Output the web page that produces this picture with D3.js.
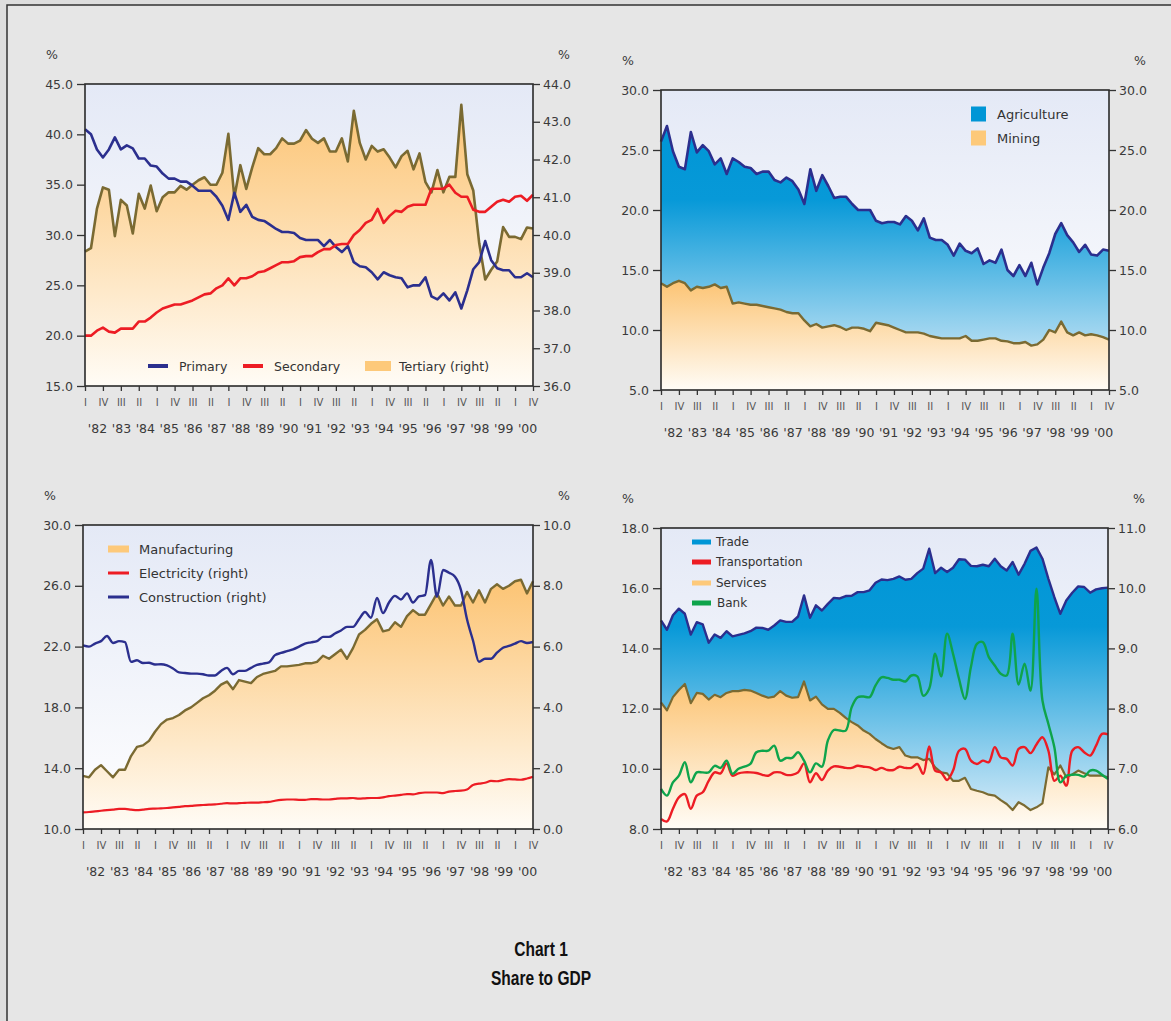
<!DOCTYPE html>
<html>
<head>
<meta charset="utf-8">
<script src="https://cdn.jsdelivr.net/npm/d3@7"></script>
<style>
  html, body { margin: 0; padding: 0; background: #e0e0e0; }
  svg { display: block; font-family: "DejaVu Sans", sans-serif; }
</style>
</head>
<body>
<svg id="chart" width="1171" height="1021"></svg>
<script>
// quarterly data, 1982 Q1 .. 2000 Q4 (76 points)
const quarterNames = ["I", "II", "III", "IV"];
const yearLabels = ["'82","'83","'84","'85","'86","'87","'88","'89","'90","'91",
  "'92","'93","'94","'95","'96","'97","'98","'99","'00"];

// panel 1
const primary = [40.5,40.0,38.5,37.7,38.5,39.7,38.5,38.9,38.6,37.6,37.6,36.9,36.8,36.1,35.6,35.6,
  35.3,35.3,34.9,34.4,34.4,34.4,33.8,32.9,31.5,34.2,32.3,33.0,31.8,31.5,31.4,31.0,30.6,30.3,30.3,30.2,
  29.7,29.5,29.5,29.5,28.9,29.5,28.8,28.3,28.9,27.3,26.9,26.8,26.3,25.6,26.3,26.0,25.8,25.7,24.8,25.0,
  25.0,25.8,23.9,23.6,24.2,23.5,24.3,22.7,24.5,26.6,27.3,29.4,27.5,26.7,26.5,26.5,25.8,25.8,26.2,25.8];
const secondary = [20.0,20.0,20.5,20.8,20.4,20.3,20.7,20.7,20.7,21.4,21.4,21.8,22.3,22.7,22.9,23.1,
  23.1,23.3,23.5,23.8,24.1,24.2,24.7,25.0,25.7,25.0,25.7,25.7,25.9,26.3,26.4,26.7,27.0,27.3,27.3,27.4,
  27.8,27.9,27.9,28.3,28.6,28.6,29.0,29.1,29.1,30.0,30.5,31.2,31.5,32.6,31.2,31.9,32.4,32.3,32.8,33.0,
  33.0,33.0,34.6,34.6,34.6,35.0,34.2,33.8,33.8,32.5,32.3,32.3,32.8,33.3,33.5,33.3,33.8,33.9,33.4,34.0];
const tertiary = [39.56,39.65,40.7,41.26,41.2,39.97,40.93,40.78,40.04,41.09,40.7,41.31,40.63,41.0,41.13,41.13,
  41.3,41.2,41.33,41.45,41.53,41.33,41.33,41.65,42.68,41.0,41.85,41.22,41.79,42.3,42.14,42.14,42.3,42.56,42.42,42.42,
  42.5,42.78,42.55,42.44,42.56,42.21,42.21,42.56,41.95,43.29,42.44,42.0,42.36,42.21,42.27,42.05,41.79,42.09,42.23,41.74,
  42.16,41.4,41.13,41.72,41.13,41.54,41.54,43.45,41.61,41.18,39.78,38.82,39.08,39.3,40.21,39.95,39.95,39.89,40.2,40.17];

// panel 2
const agriculture = [25.7,27.0,24.9,23.6,23.4,26.5,24.8,25.4,24.9,23.8,24.3,23.0,24.3,24.0,23.6,23.5,
  23.0,23.2,23.2,22.5,22.3,22.7,22.4,21.7,20.5,23.4,21.6,22.9,22.0,21.0,21.1,21.1,20.5,20.0,20.0,20.0,
  19.1,18.9,19.0,19.0,18.8,19.5,19.1,18.3,19.3,17.7,17.5,17.5,17.1,16.2,17.2,16.6,16.4,16.8,15.5,15.8,
  15.6,16.7,15.0,14.5,15.4,14.5,15.6,13.8,15.2,16.4,18.0,18.9,17.9,17.3,16.5,17.1,16.3,16.2,16.7,16.6];
const mining = [13.9,13.6,13.9,14.1,13.9,13.3,13.6,13.5,13.6,13.8,13.5,13.6,12.2,12.3,12.2,12.1,
  12.1,12.0,11.9,11.8,11.7,11.5,11.4,11.4,10.8,10.3,10.5,10.2,10.3,10.4,10.25,10.0,10.2,10.2,10.1,9.9,
  10.6,10.5,10.4,10.2,10.0,9.8,9.8,9.8,9.7,9.5,9.4,9.3,9.3,9.3,9.3,9.5,9.1,9.1,9.2,9.3,
  9.3,9.1,9.05,8.9,8.9,9.0,8.7,8.8,9.2,10.0,9.8,10.7,9.8,9.55,9.8,9.55,9.65,9.55,9.4,9.2];

// panel 3
const manufacturing = [13.5,13.4,13.9,14.2,13.8,13.4,13.9,13.9,14.8,15.4,15.5,15.8,16.4,16.9,17.2,17.3,
  17.5,17.8,18.0,18.3,18.6,18.8,19.1,19.5,19.7,19.2,19.8,19.7,19.6,20.0,20.2,20.3,20.4,20.7,20.7,20.75,
  20.8,20.9,20.9,21.0,21.4,21.2,21.5,21.8,21.2,21.9,22.8,23.1,23.5,23.8,23.0,23.1,23.6,23.3,24.0,24.4,
  24.1,24.1,24.8,25.5,24.7,25.3,24.7,24.7,25.6,24.9,25.7,24.9,25.8,26.1,25.8,26.0,26.3,26.4,25.5,26.3];
const electricity = [0.55,0.56,0.58,0.6,0.62,0.64,0.66,0.66,0.64,0.62,0.64,0.66,0.67,0.68,0.69,0.71,
  0.73,0.75,0.76,0.78,0.79,0.8,0.81,0.83,0.85,0.84,0.85,0.86,0.87,0.87,0.88,0.89,0.93,0.96,0.97,0.97,
  0.96,0.96,0.98,0.98,0.97,0.97,0.99,1.01,1.01,1.02,1.0,1.01,1.02,1.02,1.04,1.08,1.1,1.12,1.15,1.14,
  1.18,1.2,1.2,1.2,1.18,1.23,1.25,1.26,1.3,1.45,1.49,1.52,1.58,1.57,1.61,1.64,1.63,1.62,1.66,1.72];
const construction = [6.04,6.0,6.1,6.18,6.35,6.12,6.18,6.15,5.5,5.55,5.46,5.47,5.41,5.42,5.38,5.28,
  5.15,5.13,5.11,5.11,5.09,5.05,5.05,5.2,5.3,5.09,5.2,5.2,5.3,5.4,5.44,5.48,5.72,5.79,5.85,5.91,
  6.0,6.1,6.14,6.18,6.32,6.32,6.43,6.53,6.65,6.65,6.9,7.14,6.95,7.6,7.1,7.45,7.67,7.55,7.75,7.45,
  7.65,7.69,8.85,7.64,8.52,8.43,8.3,7.86,6.9,6.2,5.5,5.6,5.6,5.8,5.96,6.02,6.1,6.18,6.12,6.15];

// panel 4
const trade = [14.93,14.62,15.1,15.32,15.15,14.46,14.87,14.8,14.19,14.46,14.35,14.57,14.4,14.45,14.5,14.57,
  14.69,14.68,14.62,14.76,14.93,14.88,14.88,15.06,15.76,15.02,15.43,15.26,15.48,15.68,15.66,15.74,15.75,15.87,15.87,15.93,
  16.18,16.29,16.27,16.31,16.39,16.28,16.31,16.5,16.65,17.31,16.5,16.68,16.54,16.68,16.96,16.95,16.74,16.73,16.78,16.73,
  16.98,16.73,16.59,16.87,16.45,16.81,17.24,17.35,16.98,16.31,15.7,15.15,15.59,15.85,16.06,16.04,15.85,15.96,16.0,16.02];
const services = [12.21,11.94,12.38,12.62,12.82,12.18,12.52,12.49,12.3,12.46,12.38,12.52,12.58,12.58,12.62,12.6,
  12.52,12.43,12.36,12.4,12.58,12.43,12.36,12.38,12.9,12.27,12.4,12.14,11.99,11.99,11.86,11.69,11.55,11.44,11.27,11.16,
  10.99,10.85,10.72,10.66,10.72,10.44,10.38,10.38,10.29,10.33,10.05,9.88,9.85,9.6,9.6,9.7,9.33,9.27,9.22,9.14,
  9.11,8.96,8.83,8.63,8.89,8.78,8.63,8.72,8.85,10.05,9.81,10.11,9.72,9.81,9.94,9.85,9.77,9.77,9.77,9.72];
const transportation = [8.33,8.25,8.67,9.05,9.16,8.67,9.11,9.22,9.6,9.88,9.85,10.18,9.77,9.85,9.88,9.88,
  9.86,9.8,9.77,9.88,9.88,9.8,9.8,9.88,10.18,9.55,9.85,9.63,9.94,10.08,10.07,10.03,10.03,10.1,10.07,10.05,
  9.96,10.03,9.96,9.96,10.07,10.03,10.03,10.16,9.83,10.74,9.94,9.88,9.63,9.94,10.6,10.66,10.27,10.16,10.27,10.22,
  10.72,10.38,10.33,10.11,10.66,10.72,10.52,10.81,11.05,10.6,9.6,9.77,9.44,10.6,10.72,10.55,10.44,10.77,11.16,11.14];
const bank = [9.33,9.11,9.55,9.77,10.22,9.55,9.88,9.88,9.88,10.1,10.03,10.27,9.83,10.0,10.07,10.16,
  10.55,10.6,10.6,10.77,10.27,10.36,10.36,10.55,10.27,9.88,10.18,10.07,10.94,11.29,11.27,11.27,12.05,12.38,12.4,12.38,
  12.77,13.04,13.02,12.96,12.96,12.9,13.1,13.07,12.43,12.66,13.82,13.07,14.49,13.82,12.99,12.32,13.38,14.15,14.21,13.71,
  13.43,13.16,13.1,14.49,12.8,13.49,12.6,15.98,12.27,11.49,10.72,9.55,9.77,9.8,9.8,9.74,9.94,9.94,9.8,9.66];

const navy = "#2b2f8e", red = "#ed1c24", olive = "#7a6a32", green = "#0ea44b";

const svg = d3.select("#chart");
const defs = svg.append("defs");

function vGrad(id, stops) {
  const g = defs.append("linearGradient").attr("id", id)
    .attr("x1", 0).attr("y1", 0).attr("x2", 0).attr("y2", 1);
  stops.forEach(([o, c]) => g.append("stop").attr("offset", o).attr("stop-color", c));
}
vGrad("bgGrad", [[0, "#e4e9f6"], [1, "#ffffff"]]);
vGrad("orangeGrad", [[0, "#fcc474"], [1, "#fffcf6"]]);
vGrad("blueGrad", [[0, "#0096d6"], [0.28, "#0799d8"], [1, "#e3f0fa"]]);

// page background and frame
svg.append("rect").attr("width", 1171).attr("height", 1021).attr("fill", "#dedede");
svg.append("rect").attr("x", 7).attr("y", 5).attr("width", 1200).attr("height", 1100)
  .attr("fill", "#e6e6e6").attr("stroke", "#333").attr("stroke-width", 1.5);

function panel(p) {
  const x = d3.scaleLinear().domain([0, 75]).range([p.left, p.right]);
  const yL = d3.scaleLinear().domain(p.leftDomain).range([p.bottom, p.top]);
  const yR = d3.scaleLinear().domain(p.rightDomain).range([p.bottom, p.top]);
  const g = svg.append("g");

  g.append("rect").attr("x", p.left).attr("y", p.top)
    .attr("width", p.right - p.left).attr("height", p.bottom - p.top)
    .attr("fill", "url(#bgGrad)");

  p.areas.forEach(a => {
    const y = a.right ? yR : yL;
    g.append("path").datum(a.values)
      .attr("d", d3.area().x((d, i) => x(i)).y0(p.bottom).y1(d => y(d)))
      .attr("fill", `url(#${a.grad})`);
  });
  p.areas.forEach(a => {
    const y = a.right ? yR : yL;
    g.append("path").datum(a.values)
      .attr("d", d3.line().x((d, i) => x(i)).y(d => y(d)))
      .attr("fill", "none").attr("stroke", a.color).attr("stroke-width", a.width || 2.2)
      .attr("stroke-linejoin", "round");
  });
  p.lines.forEach(l => {
    const y = l.right ? yR : yL;
    g.append("path").datum(l.values)
      .attr("d", d3.line().x((d, i) => x(i)).y(d => y(d)).curve(l.curve || d3.curveLinear))
      .attr("fill", "none").attr("stroke", l.color).attr("stroke-width", l.width || 2.2)
      .attr("stroke-linejoin", "round");
  });

  // frame
  g.append("rect").attr("x", p.left).attr("y", p.top)
    .attr("width", p.right - p.left).attr("height", p.bottom - p.top)
    .attr("fill", "none").attr("stroke", "#2a2a2a").attr("stroke-width", 1.6);

  const fmt = d3.format(".1f");
  const axL = g.append("g").attr("transform", `translate(${p.left},0)`)
    .call(d3.axisLeft(yL).tickValues(p.leftTicks).tickFormat(fmt).tickSize(8).tickPadding(4));
  const axR = g.append("g").attr("transform", `translate(${p.right},0)`)
    .call(d3.axisRight(yR).tickValues(p.rightTicks).tickFormat(fmt).tickSize(7).tickPadding(3));
  const axB = g.append("g").attr("transform", `translate(0,${p.bottom})`)
    .call(d3.axisBottom(x).tickValues(d3.range(0, 76, 3))
      .tickFormat(q => quarterNames[q % 4]).tickSize(5).tickPadding(8));
  [axL, axR, axB].forEach(a => {
    a.select(".domain").remove();
    a.selectAll(".tick line").attr("stroke", "#333").attr("stroke-width", 1.3);
    a.selectAll("text").attr("fill", "#3a3a3a").attr("font-family", "DejaVu Sans");
  });
  axL.selectAll("text").attr("font-size", 12.5);
  axR.selectAll("text").attr("font-size", 12.5);
  axB.selectAll("text").attr("font-size", 10).attr("fill", "#555");

  g.selectAll(".year").data(yearLabels).join("text")
    .attr("x", (d, k) => x(4 * k + 2.1)).attr("y", p.bottom + 47)
    .attr("text-anchor", "middle").attr("font-size", 12.5).attr("fill", "#3a3a3a")
    .text(d => d);

  g.append("text").attr("x", p.left - 39).attr("y", p.top - 25)
    .attr("font-size", 12.5).attr("fill", "#3a3a3a").text("%");
  g.append("text").attr("x", p.right + 25).attr("y", p.top - 25)
    .attr("font-size", 12.5).attr("fill", "#3a3a3a").text("%");

  p.legend.forEach(it => {
    g.append("rect").attr("x", it.x).attr("y", it.y - it.h / 2)
      .attr("width", it.w).attr("height", it.h).attr("fill", it.color);
    g.append("text").attr("x", it.x + it.w + it.gap).attr("y", it.y)
      .attr("dy", "0.36em").attr("font-size", it.size).attr("fill", "#333").text(it.label);
  });
}

panel({
  left: 85, right: 533, top: 84, bottom: 386,
  leftDomain: [15, 45], leftTicks: [15, 20, 25, 30, 35, 40, 45],
  rightDomain: [36, 44], rightTicks: d3.range(36, 45, 1),
  areas: [{ values: tertiary, right: true, grad: "orangeGrad", color: olive, width: 2.6 }],
  lines: [
    { values: primary, color: navy, width: 2.6 },
    { values: secondary, color: red, width: 2.6 }
  ],
  legend: [
    { x: 148, y: 366, w: 20, h: 4, gap: 11, color: navy, label: "Primary", size: 12.5 },
    { x: 243, y: 366, w: 20, h: 4, gap: 11, color: red, label: "Secondary", size: 12.5 },
    { x: 365, y: 366, w: 26, h: 10, gap: 8, color: "#fdc97a", label: "Tertiary (right)", size: 12.5 }
  ]
});

panel({
  left: 661, right: 1109, top: 90, bottom: 390,
  leftDomain: [5, 30], leftTicks: [5, 10, 15, 20, 25, 30],
  rightDomain: [5, 30], rightTicks: [5, 10, 15, 20, 25, 30],
  areas: [
    { values: agriculture, grad: "blueGrad", color: navy, width: 2.6 },
    { values: mining, grad: "orangeGrad", color: olive, width: 2.4 }
  ],
  lines: [],
  legend: [
    { x: 971, y: 114, w: 15, h: 15, gap: 11, color: "#0096d6", label: "Agriculture", size: 13 },
    { x: 971, y: 138, w: 15, h: 15, gap: 11, color: "#fdc97a", label: "Mining", size: 13 }
  ]
});

panel({
  left: 83, right: 533, top: 525, bottom: 829,
  leftDomain: [10, 30], leftTicks: [10, 14, 18, 22, 26, 30],
  rightDomain: [0, 10], rightTicks: [0, 2, 4, 6, 8, 10],
  areas: [{ values: manufacturing, grad: "orangeGrad", color: olive, width: 2.4 }],
  lines: [
    { values: electricity, right: true, color: red, width: 2.2, curve: d3.curveMonotoneX },
    { values: construction, right: true, color: navy, width: 2.4, curve: d3.curveMonotoneX }
  ],
  legend: [
    { x: 108, y: 549, w: 21, h: 7, gap: 10, color: "#fdc97a", label: "Manufacturing", size: 13 },
    { x: 108, y: 573, w: 21, h: 3, gap: 10, color: red, label: "Electricity (right)", size: 13 },
    { x: 108, y: 597, w: 21, h: 3, gap: 10, color: navy, label: "Construction (right)", size: 13 }
  ]
});

panel({
  left: 661, right: 1108, top: 528, bottom: 829,
  leftDomain: [8, 18], leftTicks: [8, 10, 12, 14, 16, 18],
  rightDomain: [6, 11], rightTicks: [6, 7, 8, 9, 10, 11],
  areas: [
    { values: trade, grad: "blueGrad", color: navy, width: 2.4 },
    { values: services, grad: "orangeGrad", color: olive, width: 2.2 }
  ],
  lines: [
    { values: transportation, color: red, width: 2.4, curve: d3.curveCatmullRom },
    { values: bank, color: green, width: 2.4, curve: d3.curveCatmullRom }
  ],
  legend: [
    { x: 692, y: 542, w: 19, h: 5, gap: 5, color: "#0096d6", label: "Trade", size: 12 },
    { x: 692, y: 562, w: 19, h: 5, gap: 5, color: red, label: "Transportation", size: 12 },
    { x: 692, y: 583, w: 19, h: 5, gap: 5, color: "#fdc97a", label: "Services", size: 12 },
    { x: 692, y: 603, w: 19, h: 5, gap: 6, color: green, label: "Bank", size: 12 }
  ]
});

// title (condensed bold face, narrowed by a horizontal scale)
const titleLines = ["Chart 1", "Share to GDP"];
svg.selectAll(".title").data(titleLines).join("text")
  .attr("transform", (d, i) => `translate(541,${956 + i * 29}) scale(0.74,1)`)
  .attr("text-anchor", "middle")
  .attr("font-family", "'Liberation Sans', sans-serif")
  .attr("font-weight", "bold").attr("font-size", 21).attr("fill", "#111")
  .text(d => d);
</script>
</body>
</html>
